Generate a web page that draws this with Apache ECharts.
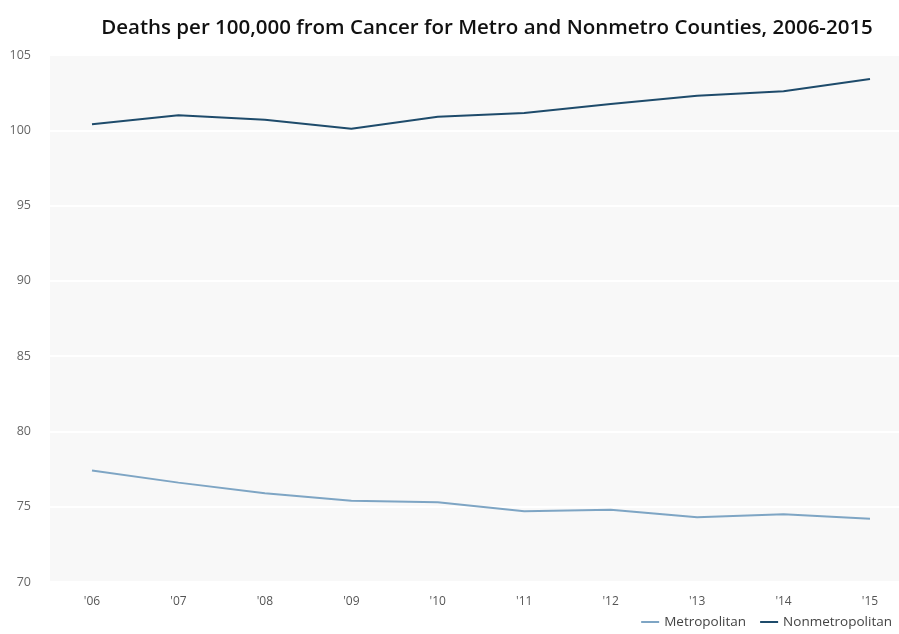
<!DOCTYPE html>
<html>
<head>
<meta charset="utf-8">
<script src="https://cdn.jsdelivr.net/npm/echarts@6/dist/echarts.min.js"></script>
<style>
  html, body { margin: 0; padding: 0; background: #fff; }
  #chart { width: 899px; height: 634px; }
</style>
</head>
<body>
<div id="chart"></div>
<script>
// years on the x axis
const years = ["'06", "'07", "'08", "'09", "'10", "'11", "'12", "'13", "'14", "'15"]
// deaths per 100,000
const metro = [77.4, 76.6, 75.9, 75.4, 75.3, 74.7, 74.8, 74.3, 74.5, 74.2]
const nonmetro = [100.4, 101.0, 100.7, 100.1, 100.9, 101.15, 101.75, 102.3, 102.6, 103.4]
const yTicks = { min: 70, max: 105, step: 5 }

const chart = echarts.init(document.getElementById('chart'))
const font = '"Open Sans", "Noto Sans", sans-serif'

chart.setOption({
  animation: false,
  title: {
    text: 'Deaths per 100,000 from Cancer for Metro and Nonmetro Counties, 2006-2015',
    left: 482,
    textAlign: 'center',
    top: 13,
    textStyle: { fontFamily: font, fontSize: 20.5, fontWeight: 600, color: '#111' }
  },
  legend: {
    right: 2,
    bottom: 0,
    icon: 'rect',
    itemWidth: 18,
    itemHeight: 2,
    itemGap: 14,
    textStyle: { fontFamily: font, fontSize: 13.5, color: '#444' },
    data: ['Metropolitan', 'Nonmetropolitan']
  },
  grid: [
    // background panel with the split lines
    { left: 50, right: 0, top: 55, bottom: 52, show: true, backgroundColor: '#f8f8f8', borderWidth: 0 },
    // data area, points sit between the panel edges
    { left: 92, right: 29, top: 55, bottom: 52 }
  ],
  xAxis: [
    { gridIndex: 0, type: 'category', data: years, show: false },
    {
      gridIndex: 1,
      type: 'category',
      data: years,
      boundaryGap: false,
      axisLine: { show: false },
      axisTick: { show: false },
      axisLabel: { fontFamily: font, fontSize: 12, color: '#555', margin: 14 }
    }
  ],
  yAxis: [
    {
      gridIndex: 0,
      type: 'value',
      min: yTicks.min,
      max: yTicks.max,
      interval: yTicks.step,
      axisLine: { show: false },
      axisTick: { show: false },
      axisLabel: { fontFamily: font, fontSize: 12.5, color: '#666', margin: 19 },
      splitLine: { lineStyle: { color: '#ffffff', width: 2 } }
    },
    {
      gridIndex: 1,
      type: 'value',
      min: yTicks.min,
      max: yTicks.max,
      interval: yTicks.step,
      show: false,
      splitLine: { show: false }
    }
  ],
  series: [
    {
      name: 'Metropolitan',
      type: 'line',
      xAxisIndex: 1,
      yAxisIndex: 1,
      data: metro,
      symbol: 'none',
      lineStyle: { color: '#7ea5c4', width: 2 },
      itemStyle: { color: '#7ea5c4' }
    },
    {
      name: 'Nonmetropolitan',
      type: 'line',
      xAxisIndex: 1,
      yAxisIndex: 1,
      data: nonmetro,
      symbol: 'none',
      lineStyle: { color: '#1e4b6b', width: 2 },
      itemStyle: { color: '#1e4b6b' }
    }
  ]
})
</script>
</body>
</html>
